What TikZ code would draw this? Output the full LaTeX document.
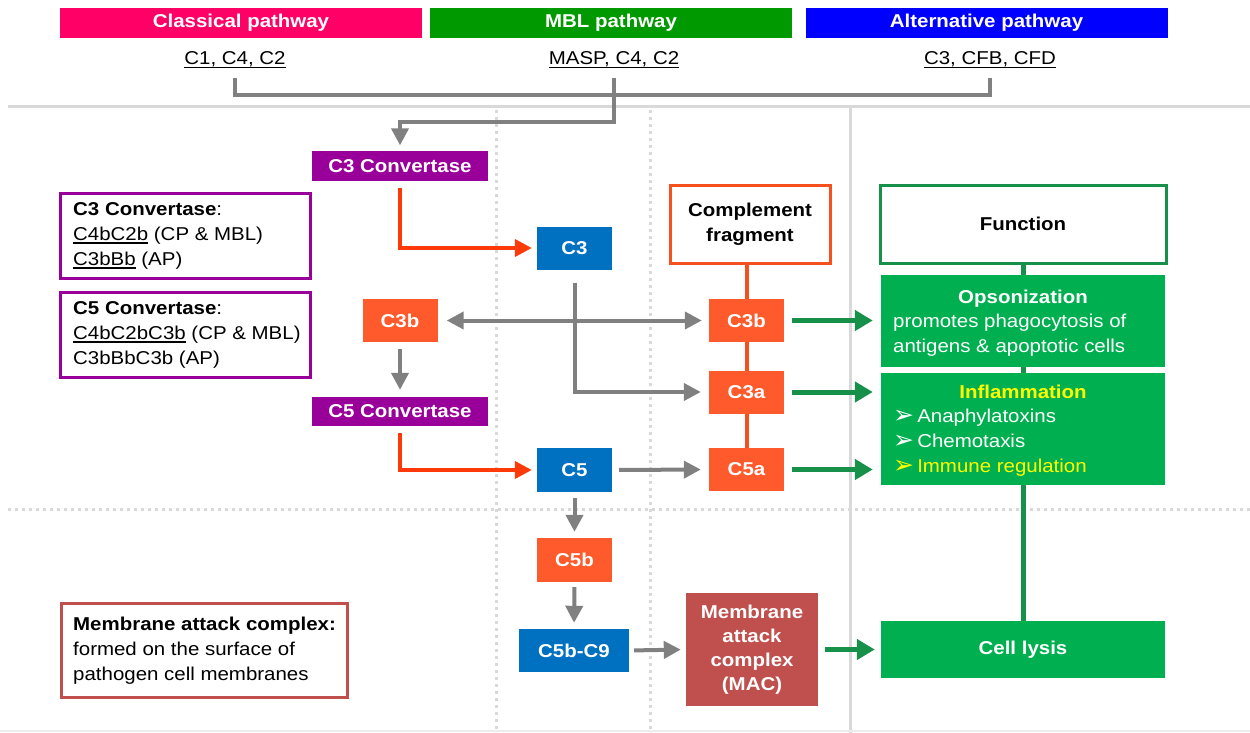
\documentclass[tikz,border=0pt]{standalone}
\usepackage{fontspec}
\setmainfont{Liberation Sans}[FakeStretch=1.1]
\newfontfamily\djv{DejaVu Sans}
\usetikzlibrary{arrows.meta}
\pgfdeclarelayer{bg}
\pgfsetlayers{bg,main}
\definecolor{cpink}{HTML}{FF0066}
\definecolor{cmbl}{HTML}{009900}
\definecolor{calt}{HTML}{0000FF}
\definecolor{cpurp}{HTML}{990099}
\definecolor{cblue}{HTML}{0070C0}
\definecolor{corange}{HTML}{FF5A2B}
\definecolor{cred}{HTML}{FF3A0A}
\definecolor{cfrag}{HTML}{F4511E}
\definecolor{cgreen}{HTML}{00B050}
\definecolor{cdgreen}{HTML}{17904A}
\definecolor{cmac}{HTML}{C0504D}
\definecolor{cgray}{HTML}{808080}
\definecolor{csep}{HTML}{D9D9D9}
\definecolor{cyel}{HTML}{FFFF00}
\newcommand\fs{\fontsize{18.6}{25}\selectfont}
\newcommand\ulx[1]{\setbox0\hbox{#1}\rlap{\rule[-3pt]{\wd0}{1.2pt}}\box0\relax}
\newcommand\bul{{\fontsize{25}{25}\selectfont\djv\raisebox{-1pt}{➢}}\,}
\begin{document}
\begin{tikzpicture}[x=1pt,y=-1pt,
  solidbox/.style={inner sep=0pt, text=white, font=\fs\bfseries, align=center},
  bar/.style={solidbox, minimum width=362, minimum height=30},
  small/.style={solidbox, minimum width=75, minimum height=43},
  conv/.style={solidbox, fill=cpurp, minimum width=176, minimum height=29},
  outline/.style={draw=#1, line width=3pt, fill=white, inner sep=0pt},
  plain/.style={font=\fs, inner sep=0pt},
  gl/.style={draw=cgray, line width=4pt},
  ga/.style={gl, -{Triangle[length=17pt,width=17pt]}},
  gaa/.style={gl, {Triangle[length=17pt,width=17pt]}-{Triangle[length=17pt,width=17pt]}},
  ra/.style={draw=cred, line width=4pt, -{Triangle[length=17pt,width=17pt]}},
  gra/.style={draw=cdgreen, line width=5pt, -{Triangle[length=18pt,width=20pt]}},
  sepl/.style={draw=csep, line width=3pt},
  dsep/.style={draw=csep, line width=3pt, dash pattern=on 3pt off 4pt},
]
\useasboundingbox (0,0) rectangle (1250,733);

% header bars
\node[bar, fill=cpink] (cp) at (241,23) {Classical pathway};
\node[bar, fill=cmbl] (mbl) at (611,23) {MBL pathway};
\node[bar, fill=calt] (ap) at (986.5,23) {Alternative pathway};
\node[plain, anchor=base] (c1) at (235,65) {\ulx{C1, C4, C2}};
\node[plain, anchor=base] (masp) at (614,65) {\ulx{MASP, C4, C2}};
\node[plain, anchor=base] (cfb) at (990,65) {\ulx{C3, CFB, CFD}};
\coordinate (hub) at (614,95);
\coordinate (turn) at (614,122);

% left info boxes
\node[outline=cpurp, minimum width=250, minimum height=85] (cv3box) at (185,235.5) {};
\node[plain, anchor=west, align=left] (cv3txt) at (73,236)
  {\textbf{C3 Convertase}:\\\ulx{C4bC2b} (CP \& MBL)\\\ulx{C3bBb} (AP)};
\node[outline=cpurp, minimum width=250, minimum height=85] (cv5box) at (185,334.5) {};
\node[plain, anchor=west, align=left] (cv5txt) at (73,335)
  {\textbf{C5 Convertase}:\\\ulx{C4bC2bC3b} (CP \& MBL)\\C3bBbC3b (AP)};
\node[outline=cmac, minimum width=286, minimum height=94] (macbox) at (204,650) {};
\node[plain, anchor=west, align=left] (mactxt) at (73,651)
  {\textbf{Membrane attack complex:}\\formed on the surface of\\pathogen cell membranes};

% pathway nodes
\node[conv] (c3conv) at (400,166) {C3 Convertase};
\node[conv] (c5conv) at (400,411.5) {C5 Convertase};
\node[small, fill=cblue] (c3) at (574.5,248) {C3};
\node[small, fill=corange] (c3bL) at (400,320.5) {C3b};
\node[small, fill=cblue, minimum height=44] (c5) at (574.5,470) {C5};
\node[small, fill=corange, minimum height=44] (c5b) at (574.5,560) {C5b};
\node[small, fill=cblue, minimum width=110] (c5b9) at (574,650.5) {C5b-C9};
\node[solidbox, fill=cmac, minimum width=132, minimum height=113, font=\fontsize{18.6}{24}\selectfont\bfseries] (mac) at (752,649.5) {Membrane\\attack\\complex\\(MAC)};

% fragments
\node[outline=cfrag, minimum width=160, minimum height=78, font=\fs\bfseries, align=center] (comp) at (750,224) {Complement\\fragment};
\node[small, fill=corange] (c3bR) at (746.5,320.5) {C3b};
\node[small, fill=corange] (c3a) at (746.5,392) {C3a};
\node[small, fill=corange] (c5a) at (746.5,469.5) {C5a};

% functions
\node[outline=cdgreen, minimum width=286, minimum height=78, font=\fs\bfseries] (func) at (1023,224) {Function};
\node[fill=cgreen, text=white, inner sep=0pt, minimum width=284, minimum height=92] (opson) at (1023,321) {};
\node[plain, text=white, anchor=base] (opsonT) at (1023,303) {\bfseries Opsonization};
\node[plain, text=white, anchor=north west, align=left] (opsonB) at (893,314) {promotes phagocytosis of\\antigens \& apoptotic cells};
\node[fill=cgreen, inner sep=0pt, minimum width=284, minimum height=112] (infl) at (1023,429) {};
\node[plain, text=cyel, anchor=base] (inflT) at (1023,398) {\bfseries Inflammation};
\node[plain, text=white, anchor=north west, align=left] (inflB) at (893,409)
  {\bul Anaphylatoxins\\\bul Chemotaxis\\\textcolor{cyel}{\bul Immune regulation}};
\node[solidbox, fill=cgreen, minimum width=284, minimum height=57] (lysis) at (1023,649.5) {Cell lysis};

\begin{pgfonlayer}{bg}
  \draw[sepl] (8,107) -- (1250,107);
  \draw[sepl] (850,107) -- (850,733);
  \draw[dsep] (496,110) -- (496,733);
  \draw[dsep] (650,110) -- (650,733);
  \draw[dsep] (8,509) -- (1250,509);
  \draw[draw=csep!50, line width=2pt] (0,731) -- (1250,731);
  \draw[draw=cfrag, line width=4pt] (comp.south -| c3bR) -- (c5a.north);
  \draw[draw=cdgreen, line width=5pt] (func.south) -- (lysis.north);
\end{pgfonlayer}

% connectors
\draw[gl] ([yshift=-13pt]c1.base) |- (hub) -| ([yshift=-13pt]cfb.base);
\draw[ga, shorten >=6pt] ([yshift=-13pt]masp.base) |- (turn) -| (c3conv.north);
\draw[ra, shorten <=7pt, shorten >=5pt] (c3conv.south) |- (c3.west);
\draw[ra, shorten <=7pt, shorten >=5pt] (c5conv.south) |- (c5.west);
\draw[ga, shorten <=13pt, shorten >=8pt] (c3.south) |- (c3a.west);
\draw[gaa, shorten <=9pt, shorten >=7pt] (c3bL.east) -- (c3bR.west);
\draw[ga, shorten <=7pt, shorten >=7pt] (c3bL.south) -- (c5conv.north);
\draw[ga, shorten <=7pt, shorten >=8pt] (c5.east) -- (c5a.west);
\draw[ga, shorten <=6pt, shorten >=6pt] (c5.south) -- (c5b.north);
\draw[ga, shorten <=5pt, shorten >=6pt] (c5b.south) -- (c5b9.north);
\draw[ga, shorten <=5pt, shorten >=5pt] (c5b9.east) -- (mac.west);
\draw[gra, shorten <=8pt, shorten >=8pt] (c3bR.east) -- (c3bR.east -| opson.west);
\draw[gra, shorten <=8pt, shorten >=8pt] (c3a.east) -- (c3a.east -| infl.west);
\draw[gra, shorten <=8pt, shorten >=8pt] (c5a.east) -- (c5a.east -| infl.west);
\draw[gra, shorten <=7pt, shorten >=6pt] (mac.east) -- (lysis.west);
\end{tikzpicture}
\end{document}
